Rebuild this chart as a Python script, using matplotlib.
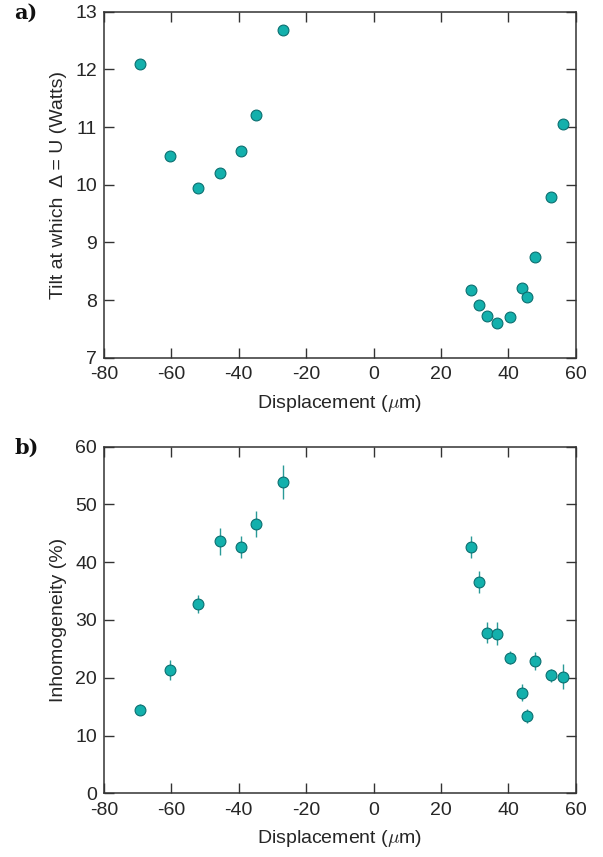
import matplotlib
matplotlib.use("Agg")
import matplotlib.pyplot as plt

# Data
displacement = [-69.3, -60.5, -52.2, -45.5, -39.3, -34.9, -27.0,
                28.9, 31.3, 33.7, 36.7, 40.6, 44.1, 45.6, 47.8, 52.7, 56.3]
tilt = [12.09, 10.50, 9.95, 10.21, 10.59, 11.21, 12.68,
        8.17, 7.91, 7.72, 7.60, 7.71, 8.21, 8.05, 8.75, 9.78, 11.06]
inhomogeneity = [14.5, 21.3, 32.8, 43.6, 42.6, 46.6, 53.9,
                 42.6, 36.5, 27.8, 27.6, 23.5, 17.4, 13.4, 22.9, 20.4, 20.2]
inhom_err = [1.0, 1.7, 1.6, 2.3, 1.9, 2.2, 2.9,
             1.9, 1.9, 1.8, 2.0, 1.2, 1.5, 1.2, 1.5, 1.2, 2.2]

x_ticks = [-80, -60, -40, -20, 0, 20, 40, 60]
top_yticks = [7, 8, 9, 10, 11, 12, 13]
bot_yticks = [0, 10, 20, 30, 40, 50, 60]

plt.rcParams['font.family'] = ['Liberation Sans', 'DejaVu Sans']
plt.rcParams['mathtext.fontset'] = 'cm'
plt.rcParams['axes.unicode_minus'] = False

face = '#13B0AC'
edge = '#0B6F70'
spine_c = '#333333'
txt_c = '#262626'

fig = plt.figure(figsize=(6.03, 8.57), dpi=100)
ax1 = fig.add_axes([0.1725, 0.5826, 0.7822, 0.4037])
ax2 = fig.add_axes([0.1725, 0.0743, 0.7822, 0.4045])

def style(ax):
    for s in ax.spines.values():
        s.set_color(spine_c)
        s.set_linewidth(1.1)
    ax.tick_params(direction='in', length=7, width=1.0, color=spine_c,
                   top=True, right=True, labelsize=14, labelcolor=txt_c)
    ax.tick_params(axis='x', pad=6)
    ax.tick_params(axis='y', pad=5)
    ax.set_xlim(-80, 60)
    ax.set_xticks(x_ticks)

ax1.plot(displacement, tilt, 'o', ms=7.8, mfc=face, mec=edge, mew=0.8)
style(ax1)
ax1.set_ylim(7, 13)
ax1.set_yticks(top_yticks)
ax1.set_xlabel(r'Displacement ($\mu$m)', fontsize=14, color=txt_c, labelpad=7)
ax1.set_ylabel('Tilt at which  Δ = U (Watts)', fontsize=14, color=txt_c, labelpad=6)

ax2.errorbar(displacement, inhomogeneity, yerr=inhom_err, fmt='o', ms=7.8,
             mfc=face, mec=edge, mew=0.8, ecolor='#2A9A98', elinewidth=1.0, capsize=0)
style(ax2)
ax2.set_ylim(0, 60)
ax2.set_yticks(bot_yticks)
ax2.set_xlabel(r'Displacement ($\mu$m)', fontsize=14, color=txt_c, labelpad=7)
ax2.set_ylabel('Inhomogeneity (%)', fontsize=14, color=txt_c, labelpad=6)

fig.text(0.024, 0.985, 'a)', fontsize=15, fontweight='bold', family='DejaVu Serif',
         va='center', ha='left', color='#111111')
fig.text(0.024, 0.477, 'b)', fontsize=15, fontweight='bold', family='DejaVu Serif',
         va='center', ha='left', color='#111111')

fig.savefig('out.png', dpi=100)
